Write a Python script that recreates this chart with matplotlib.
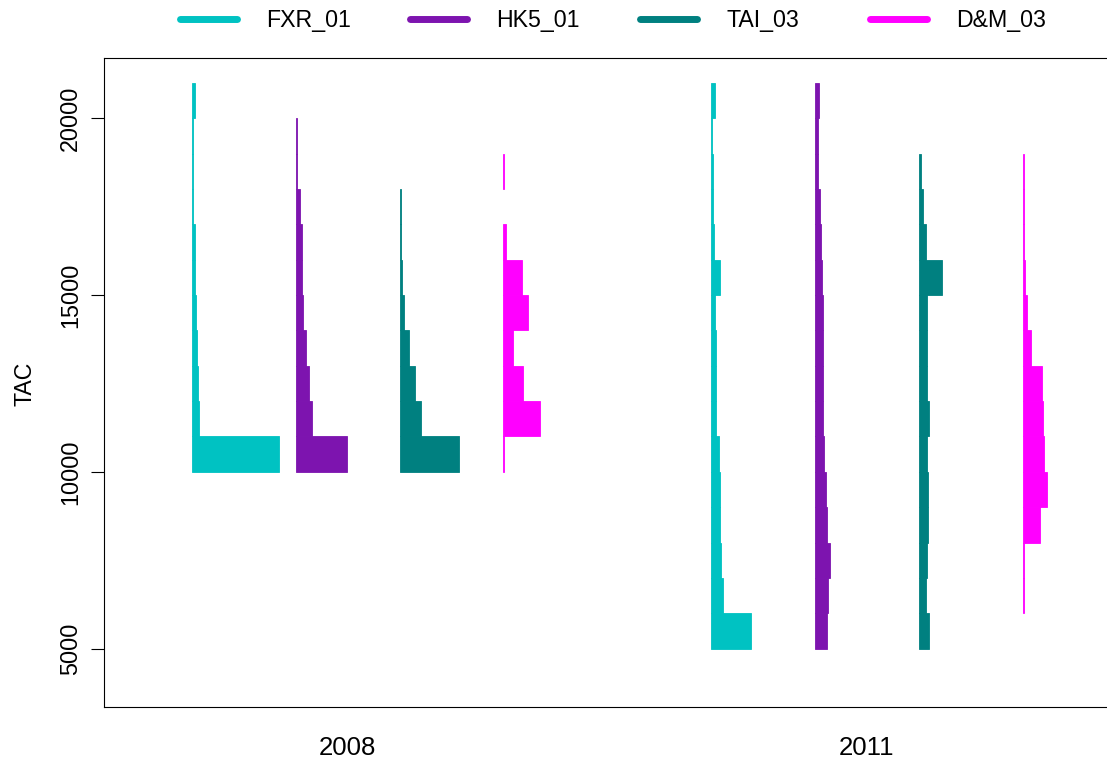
#!/usr/bin/env python3

import matplotlib
matplotlib.use("Agg")
import matplotlib.pyplot as plt
from matplotlib.lines import Line2D

plt.rcParams['font.family'] = ['Liberation Sans', 'DejaVu Sans']

# data: share of iterations (%) per 1000-t TAC bin
years = [2008, 2011]
series = ["FXR_01", "HK5_01", "TAI_03", "D&M_03"]
colors = ["#00C2C2", "#7D14AF", "#008080", "#FF00FF"]
bin_width = 1000

fxr_2008_start = 10000
fxr_2008 = [73.3, 5.8, 5.0, 4.2, 3.1, 2.3, 2.3, 1.1, 1.1, 1.1, 2.3]
hk5_2008_start = 10000
hk5_2008 = [43.1, 13.9, 10.8, 8.3, 6.4, 5.6, 5.6, 3.3, 1.4, 1.1]
tai_2008_start = 10000
tai_2008 = [49.8, 18.1, 13.1, 7.5, 3.6, 2.2, 1.4, 0.8]
dm_2008_start = 10000
dm_2008 = [0.8, 30.6, 16.7, 8.3, 20.6, 15.3, 2.2, 0, 0.8]

fxr_2011_start = 5000
fxr_2011 = [33.3, 9.7, 8.1, 7.2, 7.2, 6.4, 4.4, 3.9, 3.9, 3.3, 7.5, 2.5, 1.9, 1.9, 1.1, 2.8]
hk5_2011_start = 5000
hk5_2011 = [10.3, 10.6, 12.2, 10.0, 8.9, 7.5, 6.9, 6.9, 6.7, 6.7, 5.8, 4.7, 4.2, 2.8, 2.8, 3.3]
tai_2011_start = 5000
tai_2011 = [8.3, 6.1, 6.7, 7.5, 7.5, 7.2, 8.3, 7.2, 6.4, 6.4, 19.7, 5.6, 3.3, 1.7]
dm_2011_start = 6000
dm_2011 = [0.8, 0.8, 14.2, 20.0, 17.5, 16.9, 15.8, 6.9, 3.3, 1.7, 0.8, 0.8, 0.8]

hists = [
    [(fxr_2008_start, fxr_2008), (hk5_2008_start, hk5_2008),
     (tai_2008_start, tai_2008), (dm_2008_start, dm_2008)],
    [(fxr_2011_start, fxr_2011), (hk5_2011_start, hk5_2011),
     (tai_2011_start, tai_2011), (dm_2011_start, dm_2011)],
]

year_pos = [0, 5]
offsets = [-1.5, -0.5, 0.5, 1.5]
scale = 1.19 / 104  # x units per percent

W, H = 1107, 766
fig = plt.figure(figsize=(W / 100, H / 100), dpi=100)
ax = fig.add_axes([103.7 / W, 1 - 707.3 / H, (1110 - 103.7) / W, (707.3 - 58) / H])

for j, yr in enumerate(years):
    for i, name in enumerate(series):
        start, vals = hists[j][i]
        base = year_pos[j] + offsets[i]
        for k, v in enumerate(vals):
            if v <= 0:
                continue
            ax.barh(start + k * bin_width, v * scale, height=bin_width, left=base,
                    align="edge", color=colors[i], edgecolor=colors[i], linewidth=0.6)

ax.set_xlim(-2.349, 7.34)
ax.set_ylim(3339, 21707)

ax.set_xticks(year_pos)
ax.set_xticklabels([str(y) for y in years], fontsize=18.5)
ax.tick_params(axis="x", length=0, pad=21)

ax.set_yticks([5000, 10000, 15000, 20000])
ax.set_yticklabels(["5000", "10000", "15000", "20000"], rotation=90, va="center", fontsize=16.8)
ax.tick_params(axis="y", length=9.4, width=0.8, pad=6)

for sp in ax.spines.values():
    sp.set_linewidth(0.8)

fig.text(25 / W, 1 - 384 / H, "TAC", rotation=90, ha="center", va="center", fontsize=16.7)

# legend: equal-width columns like R, one entry per box
legend_x = [180.0, 410.0, 640.0, 870.0]
for c, name, lx in zip(colors, series, legend_x):
    h = Line2D([0], [0], color=c, lw=5, solid_capstyle="round")
    fig.legend([h], [name], loc="center left", bbox_to_anchor=(lx / W, 1 - 21 / H),
               frameon=False, fontsize=16.7, handlelength=2.46, handletextpad=1.27,
               borderpad=0, borderaxespad=0)

fig.savefig("out.png", dpi=100)
